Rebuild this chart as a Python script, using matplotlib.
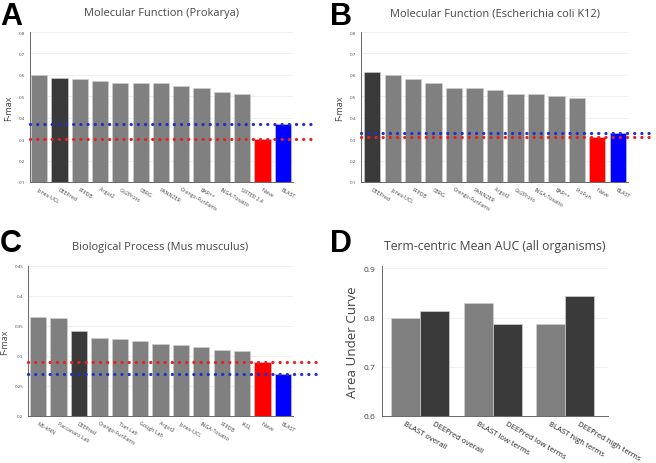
import matplotlib.pyplot as plt

plt.rcParams['font.family'] = ['Open Sans', 'DejaVu Sans']

# panel A: Molecular Function (Prokarya)
a_names = ['Jones-UCL', 'DEEPred', 'FFPDB', 'Argot2', 'Go2Proto', 'CBRG', 'PANNZER',
           'Orengo-FunFams', 'BAR++', 'INGA-Tosatto', 'SIFTER 2.4', 'Naive', 'BLAST']
a_vals = [0.60, 0.585, 0.58, 0.57, 0.56, 0.56, 0.56, 0.55, 0.54, 0.52, 0.51, 0.30, 0.37]

# panel B: Molecular Function (Escherichia coli K12)
b_names = ['DEEPred', 'Jones-UCL', 'FFPDB', 'CBRG', 'Orengo-FunFams', 'PANNZER', 'Argot2',
           'Go2Proto', 'INGA-Tosatto', 'BAR++', 'ProFun', 'Naive', 'BLAST']
b_vals = [0.615, 0.60, 0.58, 0.56, 0.54, 0.54, 0.53, 0.51, 0.51, 0.50, 0.49, 0.31, 0.33]

# panel C: Biological Process (Mus musculus)
c_names = ['MS-kNN', 'Paccanaro Lab', 'DEEPred', 'Orengo-FunFams', 'Tian Lab', 'Gough Lab',
           'Argot2', 'Jones-UCL', 'INGA-Tosatto', 'FFPDB', 'IASL', 'Naive', 'BLAST']
c_vals = [0.365, 0.363, 0.342, 0.330, 0.328, 0.325, 0.320, 0.318, 0.315, 0.310, 0.308, 0.29, 0.27]

# panel D: Term-centric Mean AUC
d_names = ['BLAST overall', 'DEEPred overall', 'BLAST low terms', 'DEEPred low terms',
           'BLAST high terms', 'DEEPred high terms']
d_vals = [0.80, 0.813, 0.830, 0.787, 0.788, 0.843]

W, H = 656, 464
fig = plt.figure(figsize=(W / 100, H / 100), dpi=100)


def px_axes(l, t, r, b):
    return fig.add_axes([l / W, 1 - b / H, (r - l) / W, (b - t) / H])


GRAY = '#808080'
DARK = '#3a3a3a'
RED = '#ff0000'
BLUE = '#0000ff'


def style(ax, tick_fs):
    for s in ['top', 'right']:
        ax.spines[s].set_visible(False)
    for s in ['left', 'bottom']:
        ax.spines[s].set_color('#666666')
        ax.spines[s].set_linewidth(0.7)
    ax.tick_params(length=0, labelsize=tick_fs, colors='#444444')
    ax.yaxis.grid(True, color='#eeeeee', lw=0.6)
    ax.set_axisbelow(True)


def bar_panel(ax, names, vals, ylim, yticks, ylabels, title, xlim, ext, title_fs):
    colors = []
    for n in names:
        if n == 'DEEPred':
            colors.append(DARK)
        elif n == 'Naive':
            colors.append(RED)
        elif n == 'BLAST':
            colors.append(BLUE)
        else:
            colors.append(GRAY)
    x = list(range(len(names)))
    ax.bar(x, [v - ylim[0] for v in vals], bottom=ylim[0], width=0.8, color=colors,
           edgecolor='#d0d0d0', linewidth=0.4)
    ax.set_xlim(*xlim)
    ax.set_ylim(*ylim)
    ax.set_yticks(yticks)
    ax.set_yticklabels(ylabels)
    style(ax, 3.2)
    ax.set_xticks(x)
    ax.set_xticklabels(names, rotation=-30, ha='left', rotation_mode='anchor', fontsize=3.8)
    ax.tick_params(axis='x', pad=3)
    ax.set_ylabel('F-max', fontsize=6.5, color='#444444', labelpad=4)
    ax.set_title(title, fontsize=title_fs, color='#444444', pad=12)
    naive = vals[names.index('Naive')]
    blast = vals[names.index('BLAST')]
    for v, c in [(naive, '#e82020'), (blast, '#2030c8')]:
        ax.axhline(v, xmin=0, xmax=ext, color=c, lw=2.3, clip_on=False,
                   linestyle=(0, (0.05, 2.2)), dash_capstyle='round', zorder=5)


axA = px_axes(30, 33, 293, 183)
bar_panel(axA, a_names, a_vals, (0.1, 0.8), [0.1, 0.2, 0.3, 0.4, 0.5, 0.6, 0.7, 0.8],
          ['0.1', '0.2', '0.3', '0.4', '0.5', '0.6', '0.7', '0.8'],
          'Molecular Function (Prokarya)', (-0.45, 12.5), (317 - 30) / (293 - 30), 7.9)

axB = px_axes(361, 33, 628, 183)
bar_panel(axB, b_names, b_vals, (0.1, 0.8), [0.1, 0.2, 0.3, 0.4, 0.5, 0.6, 0.7, 0.8],
          ['0.1', '0.2', '0.3', '0.4', '0.5', '0.6', '0.7', '0.8'],
          'Molecular Function (Escherichia coli K12)', (-0.55, 12.5), (651 - 361) / (628 - 361), 7.9)

axC = px_axes(28, 267, 293, 417)
bar_panel(axC, c_names, c_vals, (0.2, 0.45), [0.2, 0.25, 0.3, 0.35, 0.4, 0.45],
          ['0.2', '0.25', '0.3', '0.35', '0.4', '0.45'],
          'Biological Process (Mus musculus)', (-0.5, 12.5), (317 - 28) / (293 - 28), 7.9)

# panel D
axD = px_axes(382, 267, 608, 417)
dx = [0 - 0.2, 0 + 0.2, 1 - 0.2, 1 + 0.2, 2 - 0.2, 2 + 0.2]
dcol = [GRAY, DARK] * 3
axD.bar(dx, [v - 0.6 for v in d_vals], bottom=0.6, width=0.4, color=dcol,
        edgecolor='#d0d0d0', linewidth=0.5)
axD.set_xlim(-0.53, 2.59)
axD.set_ylim(0.6, 0.905)
axD.set_yticks([0.6, 0.7, 0.8, 0.9])
axD.set_yticklabels(['0.6', '0.7', '0.8', '0.9'])
style(axD, 6)
axD.tick_params(axis='y', pad=5)
axD.set_xticks(dx)
axD.set_xticklabels(d_names, rotation=-30, ha='left', rotation_mode='anchor', fontsize=5.6)
axD.tick_params(axis='x', pad=3, colors='#222222')
axD.set_ylabel('Area Under Curve', fontsize=9.6, color='#444444', labelpad=3)
axD.set_title('Term-centric Mean AUC (all organisms)', fontsize=8.8, color='#444444', pad=12)

for lab, x, y in [('A', 0, 2), ('B', 330, 2), ('C', 0, 229), ('D', 330, 229)]:
    fig.text(x / W, 1 - y / H, lab, fontsize=22, fontweight='bold', va='top', ha='left',
             family=['Liberation Sans', 'DejaVu Sans'])

fig.savefig('out.png', dpi=100)
